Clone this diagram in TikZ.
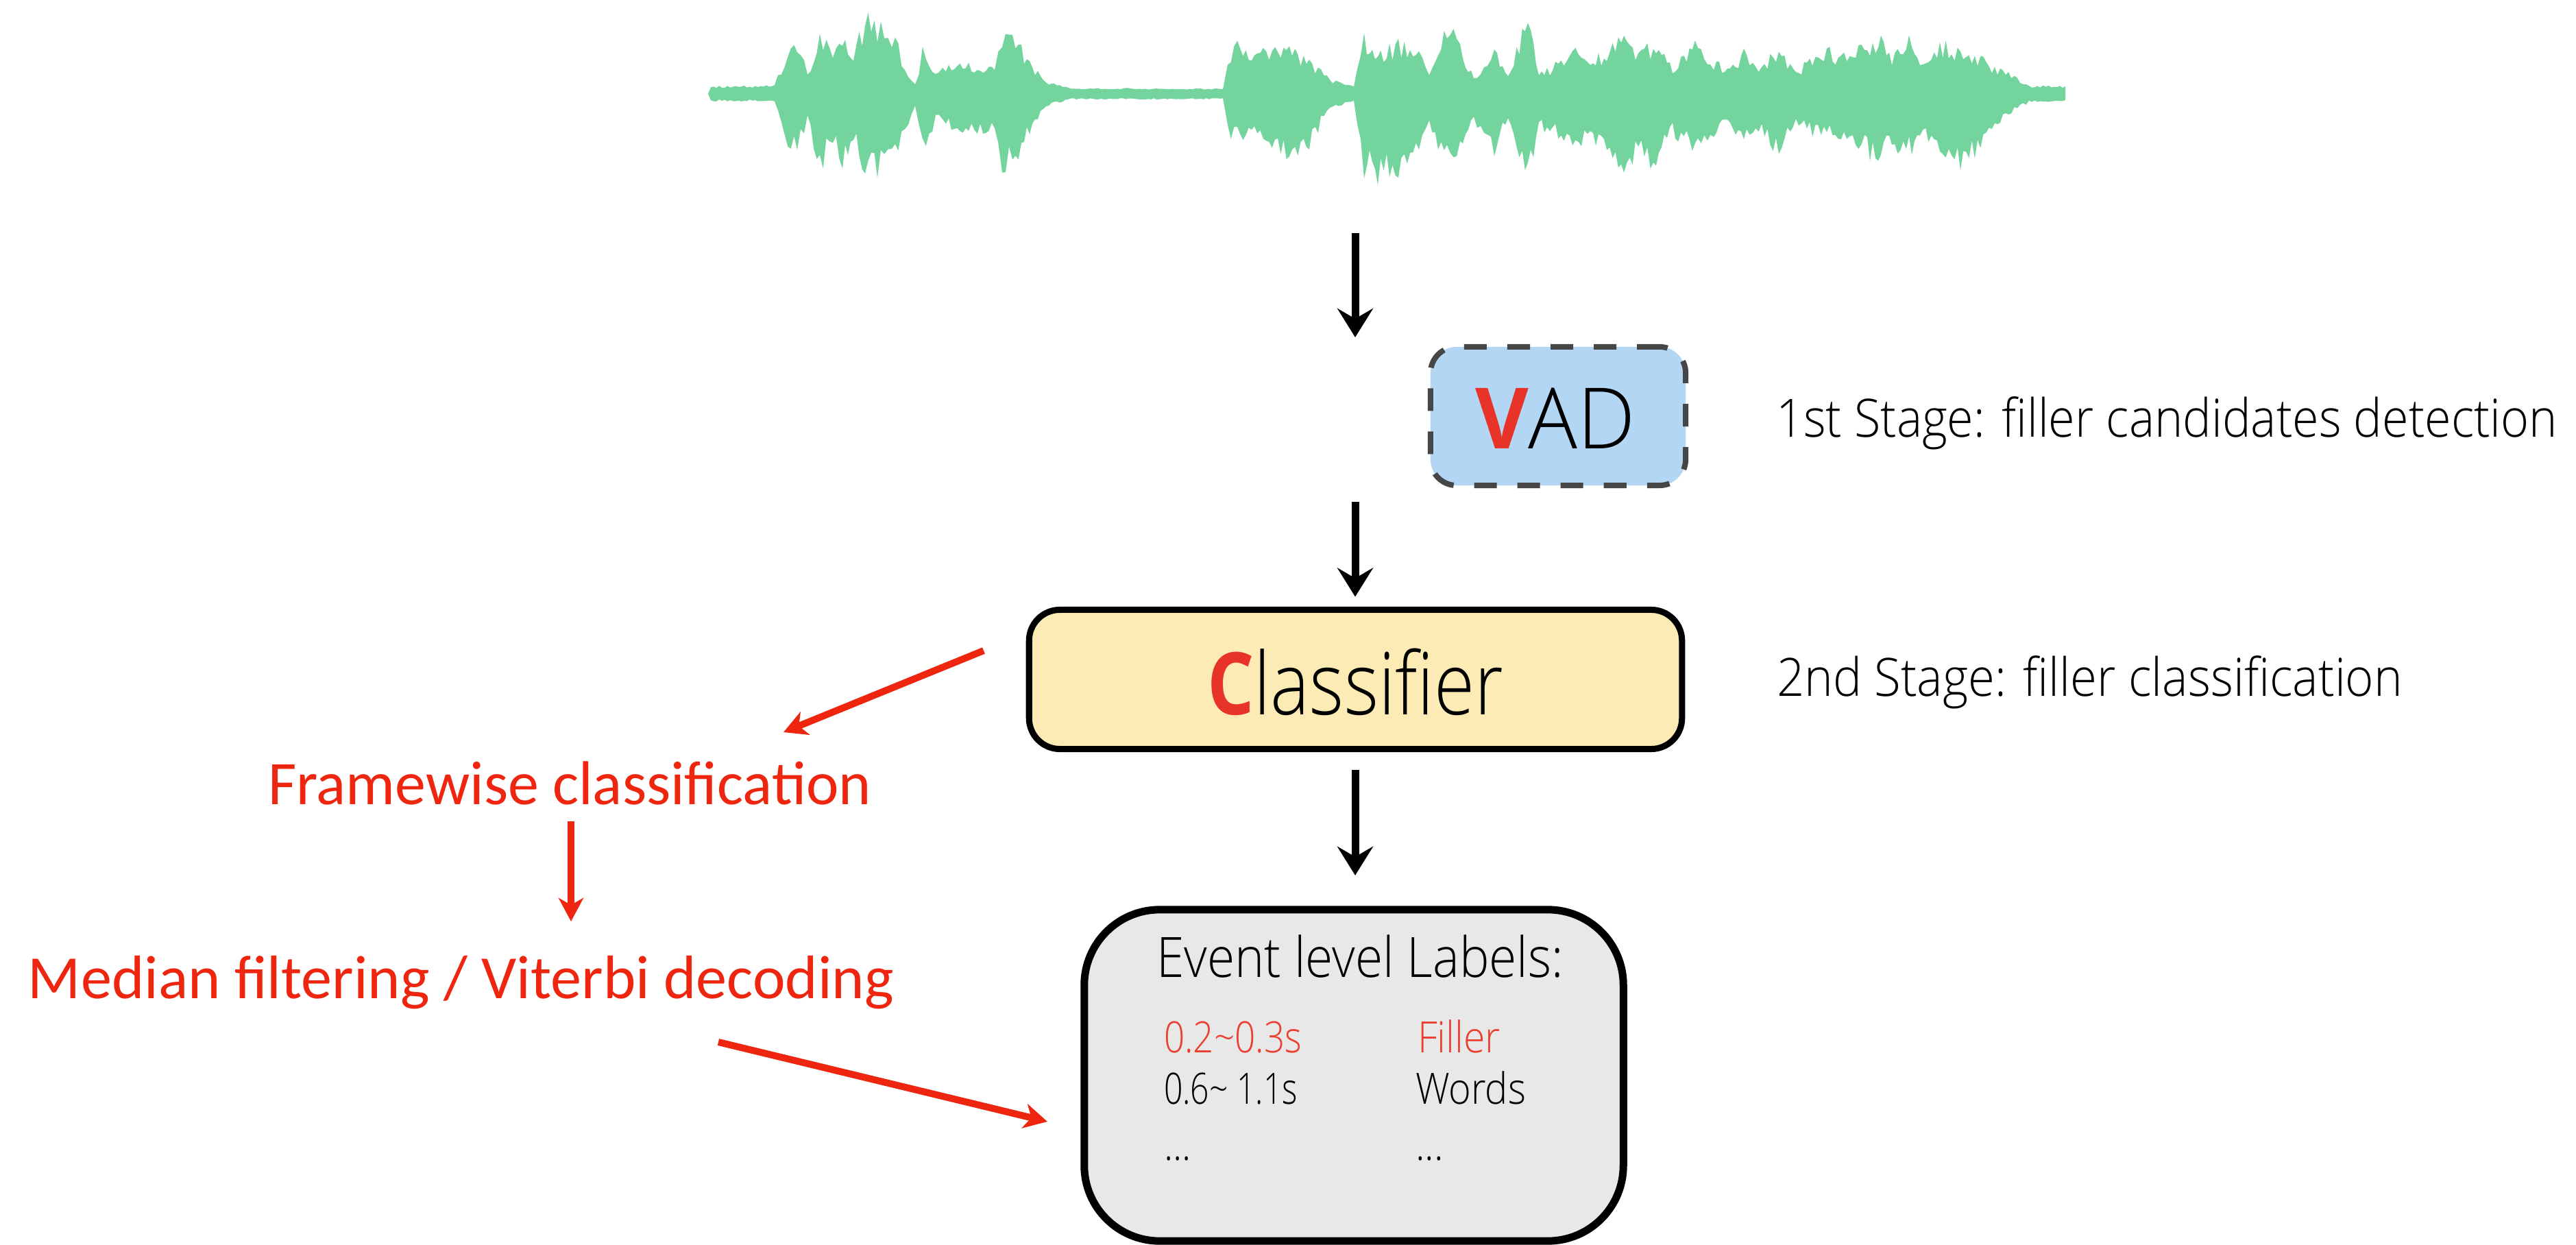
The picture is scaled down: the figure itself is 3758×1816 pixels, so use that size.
\documentclass[tikz,border=0pt]{standalone}
\usepackage{fontspec}
\usepackage{graphicx}
\usetikzlibrary{arrows.meta}

\newfontfamily\lightsans{Open Sans}[UprightFont={* Light}]
\newfontfamily\regsans{Open Sans}
\newfontfamily\calsans{Carlito}

\definecolor{wavegreen}{RGB}{115,212,157}
\definecolor{vadblue}{RGB}{180,214,245}
\definecolor{vadedge}{RGB}{70,70,70}
\definecolor{clsyellow}{RGB}{252,235,181}
\definecolor{evtgray}{RGB}{232,232,232}
\definecolor{annored}{RGB}{238,38,16}
\definecolor{vred}{RGB}{232,52,40}
\definecolor{entryred}{RGB}{234,64,50}

% one drawing unit = 0.01cm
\newdimen\pxu \pxu=0.01cm
% squeeze a text horizontally to a given width (in drawing units)
\newcommand\fitw[2]{\resizebox{#1\pxu}{\height}{#2}}

\tikzset{
  lbl/.style={inner sep=0pt, outer sep=0pt, anchor=base west},
  blackarrow/.style={line width=0.11cm, -{Stealth[length=0.42cm, width=0.52cm, inset=0.15cm]}},
  redarrow/.style={draw=annored, line width=0.10cm, -{Stealth[length=0.34cm, width=0.36cm, inset=0.10cm]}},
  vadbox/.style={draw=vadedge, fill=vadblue, line width=0.08cm, dash pattern=on 0.33cm off 0.30cm,
    rounded corners=0.38cm, inner sep=0pt, outer sep=0pt},
  clsbox/.style={draw=black, fill=clsyellow, line width=0.09cm, rounded corners=0.45cm, inner sep=0pt, outer sep=0pt},
  evtbox/.style={draw=black, fill=evtgray, line width=0.11cm, rounded corners=1.10cm, inner sep=0pt, outer sep=0pt},
  wavefill/.style={fill=wavegreen},
}

\begin{document}
\begin{tikzpicture}[x=0.01cm, y=-0.01cm]
\useasboundingbox (0,0) rectangle (3758,1816);
\fill[white] (0,0) rectangle (3758,1816);

% ---- speech waveform: envelope key points (x / upper amplitude / lower amplitude),
%      sampled with jitter into one closed outline
\pgfmathsetseed{12}
\gdef\toppts{}
\gdef\botpts{}
\foreach \xb/\tb/\bb [remember=\xb as \xa (initially 1033),
                      remember=\tb as \ta (initially 9),
                      remember=\bb as \ba (initially 8)] in {
  1130/10/8, 1140/40/60, 1163/87/96, 1178/30/40, 1196/97/123, 1215/60/70, 1229/90/110,
  1245/60/70, 1262/119/123, 1280/110/120, 1290/115/110, 1301/104/110, 1320/40/60,
  1335/12/15, 1346/67/90, 1365/30/40, 1380/40/45, 1392/44/53, 1430/44/60, 1451/35/50,
  1462/97/130, 1477/85/100, 1490/70/90, 1510/35/40, 1530/15/15, 1562/6/5, 1784/5/5,
  1791/60/60, 1805/87/70, 1830/60/70, 1860/77/80, 1885/67/100, 1910/50/80, 1940/20/20,
  1975/10/10, 1990/87/126, 2010/60/130, 2040/80/120, 2070/60/90, 2085/30/50,
  2111/109/110, 2130/80/90, 2150/20/40, 2165/50/60, 2180/67/90, 2200/30/40,
  2229/117/136, 2245/30/50, 2265/40/60, 2294/70/86, 2320/60/70, 2340/60/80,
  2365/87/123, 2390/60/90, 2412/80/110, 2440/40/60, 2477/84/96, 2500/50/60,
  2520/40/50, 2548/67/70, 2570/40/60, 2595/74/103, 2620/30/40, 2640/55/60,
  2665/67/56, 2690/60/70, 2720/80/90, 2740/90/110, 2760/60/80, 2785/84/93,
  2805/40/60, 2830/77/100, 2860/70/116, 2885/60/90, 2910/40/50, 2930/30/30,
  2960/10/10, 3013/9/8} {
  \pgfmathtruncatemacro\nn{(\xb-\xa)/4}
  \ifnum\nn>0
    \foreach \k in {1,...,\nn} {
      \pgfmathsetmacro\xx{\xa+(\xb-\xa)*\k/\nn}
      \pgfmathsetmacro\fr{\k/\nn}
      \pgfmathsetmacro\yt{137-((\ta+(\tb-\ta)*\fr)*(0.62+0.38*rnd)+3)}
      \pgfmathsetmacro\yb{137+((\ba+(\bb-\ba)*\fr)*(0.62+0.38*rnd)+3)}
      \xdef\toppts{\toppts -- (\xx,\yt)}
      \xdef\botpts{-- (\xx,\yb) \botpts}
    }
  \fi
}
\edef\wavepath{\noexpand\fill[wavefill] (1033,137) \toppts\space -- (3013,137) \botpts\space -- cycle;}
\wavepath

% ---- boxes
\node[vadbox, minimum width=3.72cm, minimum height=2.02cm] (vad) at (2273,607) {};
\node[clsbox, minimum width=9.52cm, minimum height=2.03cm] (cls) at (1977.5,991) {};
\node[evtbox, minimum width=7.86cm, minimum height=4.83cm] (evt) at (1975,1568.5) {};

% ---- box texts
\node[lbl] (vadlabel) at (2152,655)
  {\fitw{234}{\fontsize{35.1pt}{36pt}\lightsans{\regsans\bfseries\color{vred}V}AD}};
\node[lbl] (clslabel) at (1761,1042)
  {\fitw{432}{\fontsize{35.9pt}{37pt}\lightsans{\regsans\bfseries\color{vred}C}lassifier}};
\node[lbl] (evthead) at (1687,1425)
  {\fitw{594}{\fontsize{23.1pt}{24pt}\lightsans Event level Labels:}};
\node[lbl] (t1) at (1698,1535)
  {\fitw{201}{\fontsize{17.9pt}{19pt}\lightsans\color{entryred}0.2\textasciitilde0.3s}};
\node[lbl] (l1) at (2068,1535)
  {\fitw{121}{\fontsize{17.9pt}{19pt}\lightsans\color{entryred}Filler}};
\node[lbl] (t2) at (1698,1610)
  {\fitw{195}{\fontsize{17.9pt}{19pt}\lightsans 0.6\textasciitilde{} 1.1s}};
\node[lbl] (l2) at (2065,1610)
  {\fitw{161}{\fontsize{17.9pt}{19pt}\lightsans Words}};
\node[lbl] (t3) at (1698,1692)
  {\fitw{40}{\fontsize{17.9pt}{19pt}\lightsans ...}};
\node[lbl] (l3) at (2065,1692)
  {\fitw{41}{\fontsize{17.9pt}{19pt}\lightsans ...}};

% ---- stage descriptions
\node[lbl] (stage1) at (2591,638)
  {\fitw{1140}{\fontsize{21.9pt}{23pt}\lightsans 1st Stage: filler candidates detection}};
\node[lbl] (stage2) at (2592,1015)
  {\fitw{913}{\fontsize{21.9pt}{23pt}\lightsans 2nd Stage: filler classification}};

% ---- post-processing notes
\node[lbl] (fw) at (391,1173)
  {\fitw{880}{\fontsize{25.7pt}{27pt}\calsans\color{annored}Framewise classification}};
\node[lbl] (med) at (41,1456)
  {\fitw{1263}{\fontsize{25.5pt}{27pt}\calsans\color{annored}Median filtering / Viterbi decoding}};

% ---- pipeline arrows
\coordinate (a1s) at (1977,340);
\coordinate (a1e) at (1977,492);
\coordinate (a2s) at (1977,732);
\draw[blackarrow] (a1s) -- (a1e);
\draw[blackarrow, shorten >=0.19cm] (a2s) -- (a2s |- cls.north);
\draw[blackarrow, shorten <=0.305cm, shorten >=0.50cm] (cls.south -| a2s) -- (evt.north -| a2s);

% ---- annotation arrows
\coordinate (r1s) at (1435,949);
\coordinate (r1e) at (1143,1068);
\coordinate (r2s) at (833,1198);
\coordinate (r2e) at (833,1344);
\coordinate (r3s) at (1048,1520);
\coordinate (r3e) at (1528,1636);
\draw[redarrow] (r1s) -- (r1e);
\draw[redarrow] (r2s) -- (r2e);
\draw[redarrow] (r3s) -- (r3e);
\end{tikzpicture}
\end{document}
